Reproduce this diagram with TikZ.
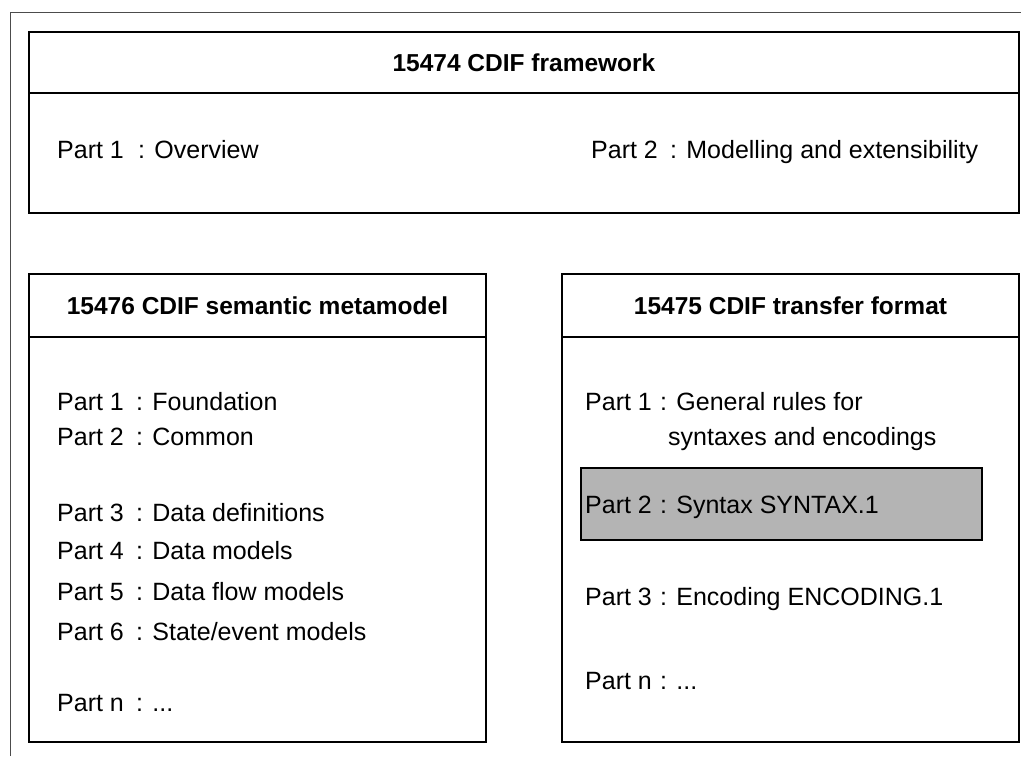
\documentclass[tikz,border=0pt]{standalone}
\usepackage{fontspec}
\setmainfont{Liberation Sans}
\definecolor{partgray}{HTML}{B4B4B4}
\begin{document}
\begin{tikzpicture}[x=1pt,y=-1pt,
  boxline/.style={draw=black,line width=2pt},
  frameline/.style={draw=black!70,line width=1pt},
  hdr/.style={font=\fontsize{24.5}{28}\selectfont\bfseries,inner sep=0pt,anchor=base},
  txt/.style={font=\fontsize{25}{28}\selectfont,inner sep=0pt,anchor=base west}]
\useasboundingbox (0,0) rectangle (1021,756);
% outer frame (partly cut)
\coordinate (fa) at (10,756);
\coordinate (fb) at (10,12);
\coordinate (fc) at (1021,12);
\draw[frameline] (fa) -- (fb) -- (fc);
% top box
\coordinate (t1) at (29,32);
\coordinate (t2) at (1019,213);
\draw[boxline] (t1) rectangle (t2);
\coordinate (td1) at (29,93);
\coordinate (td2) at (1019,93);
\draw[boxline] (td1) -- (td2);
\node[hdr] (thead) at (524,71) {15474 CDIF framework};
\node[txt] (tp1) at (57,158) {Part 1};
\node[txt] (tp1d) at (138,158) {: Overview};
\node[txt] (tp2) at (591,158) {Part 2};
\node[txt] (tp2d) at (670,158) {: Modelling and extensibility};
% left box
\coordinate (l1) at (29,274);
\coordinate (l2) at (486,742);
\draw[boxline] (l1) rectangle (l2);
\coordinate (ld1) at (29,337);
\coordinate (ld2) at (486,337);
\draw[boxline] (ld1) -- (ld2);
\node[hdr] (lhead) at (257.5,314) {15476 CDIF semantic metamodel};
\node[txt] (lp1) at (57,410) {Part 1};
\node[txt] (lp1d) at (136,410) {: Foundation};
\node[txt] (lp2) at (57,445) {Part 2};
\node[txt] (lp2d) at (136,445) {: Common};
\node[txt] (lp3) at (57,521) {Part 3};
\node[txt] (lp3d) at (136,521) {: Data definitions};
\node[txt] (lp4) at (57,559) {Part 4};
\node[txt] (lp4d) at (136,559) {: Data models};
\node[txt] (lp5) at (57,600) {Part 5};
\node[txt] (lp5d) at (136,600) {: Data flow models};
\node[txt] (lp6) at (57,640) {Part 6};
\node[txt] (lp6d) at (136,640) {: State/event models};
\node[txt] (lpn) at (57,711) {Part n};
\node[txt] (lpnd) at (136,711) {: ...};
% right box
\coordinate (r1) at (562,274);
\coordinate (r2) at (1019,742);
\draw[boxline] (r1) rectangle (r2);
\coordinate (rd1) at (562,337);
\coordinate (rd2) at (1019,337);
\draw[boxline] (rd1) -- (rd2);
\node[hdr] (rhead) at (790.5,314) {15475 CDIF transfer format};
\coordinate (g1) at (581,468);
\coordinate (g2) at (982,540);
\draw[boxline,fill=partgray] (g1) rectangle (g2);
\node[txt] (rp1) at (585,410) {Part 1};
\node[txt] (rp1d) at (660,410) {: General rules for};
\node[txt] (rp1e) at (668,445) {syntaxes and encodings};
\node[txt] (rp2) at (585,513) {Part 2};
\node[txt] (rp2d) at (660,513) {: Syntax SYNTAX.1};
\node[txt] (rp3) at (585,605) {Part 3};
\node[txt] (rp3d) at (660,605) {: Encoding ENCODING.1};
\node[txt] (rpn) at (585,689) {Part n};
\node[txt] (rpnd) at (660,689) {: ...};
\end{tikzpicture}
\end{document}
